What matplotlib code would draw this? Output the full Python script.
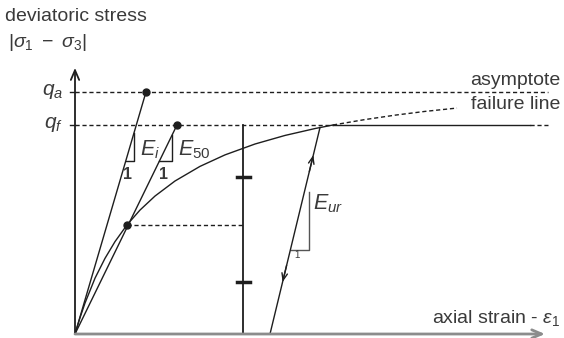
import numpy as np
import matplotlib
matplotlib.use("Agg")
from matplotlib import pyplot as plt

plt.rcParams['font.family'] = ['Liberation Sans', 'DejaVu Sans']
plt.rcParams['mathtext.fontset'] = 'custom'
plt.rcParams['mathtext.rm'] = 'Liberation Sans'
plt.rcParams['mathtext.it'] = 'Liberation Sans:italic'
plt.rcParams['mathtext.sf'] = 'Liberation Sans'

# stress levels (normalised so that q_f = 1)
q_f = 1.0
q_a = 1.158

# hyperbolic stress-strain curve, solid part up to failure
curve_eps = [0, 0.05, 0.10, 0.20, 0.30, 0.40, 0.52, 0.65, 0.80, 1.00,
             1.25, 1.50, 1.80, 2.10, 2.40, 2.58]
curve_q = [0, 0.078, 0.148, 0.267, 0.362, 0.442, 0.522, 0.593, 0.660, 0.732,
           0.802, 0.857, 0.909, 0.950, 0.983, 1.0]
# dashed continuation towards the asymptote
ext_eps = [2.58, 2.90, 3.20, 3.50, 3.82]
ext_q = [1.0, 1.026, 1.047, 1.065, 1.081]

eps_i = 0.71       # E_i secant reaches q_a here
eps_f50 = 1.02     # E_50 secant reaches q_f here
eps_50, q_50 = 0.52, 0.522
eps_mark = 1.68    # vertical scale line
ur_eps = [1.95, 2.45]
ur_q = [0.0, 0.988]
fail_end = 4.55
line_end = 4.73

ink = '#1e1e1e'
txt = '#3a3a3a'

fig = plt.figure(figsize=(5.64, 3.38), dpi=100)
ax = fig.add_axes([0, 0, 1, 1])
ax.set_xlim(-0.75, 4.89)
ax.set_ylim(-0.0191, 1.598)
ax.axis('off')

dash = dict(color=ink, lw=1.0, dashes=(3, 2))
solid = dict(color=ink, lw=1.0)

# axes with open arrowheads
ax.annotate('', xy=(0, 1.273), xytext=(0, 0),
            arrowprops=dict(arrowstyle='->,head_length=0.7,head_width=0.3',
                            color=ink, lw=1.3, shrinkA=0, shrinkB=0))
ax.annotate('', xy=(4.70, 0), xytext=(0, 0),
            arrowprops=dict(arrowstyle='->,head_length=0.7,head_width=0.3',
                            color='#8c8c8c', lw=2.0, shrinkA=0, shrinkB=0))

# asymptote and failure levels
ax.plot([0, line_end], [q_a, q_a], **dash)
ax.plot([0, curve_eps[-1]], [q_f, q_f], **dash)
ax.plot([curve_eps[-1], fail_end], [q_f, q_f], **solid)
ax.plot([fail_end, line_end], [q_f, q_f], **dash)
for q in (q_a, q_f):
    ax.plot([-0.05, 0], [q, q], **solid)

# stress-strain curve
ax.plot(curve_eps, curve_q, **solid)
ax.plot(ext_eps, ext_q, **dash)

# secant lines E_i and E_50
ax.plot([0, eps_i], [0, q_a], **solid)
ax.plot([0, eps_f50], [0, q_f], **solid)
ax.plot([eps_i, eps_f50], [q_a, q_f], 'o', color=ink, ms=5)
ax.plot([eps_50], [q_50], 'o', color=ink, ms=5)
ax.plot([eps_50, eps_mark], [q_50, q_50], **dash)

# slope triangles
def slope_triangle(slope, e0, q_base, e_right):
    e_left = e0 + q_base / slope
    q_top = (e_right - e0) * slope
    ax.plot([e_left, e_right, e_right], [q_base, q_base, q_top], **solid)

slope_triangle(q_a / eps_i, 0, 0.828, 0.59)
slope_triangle(q_f / eps_f50, 0, 0.828, 0.97)
ax.plot([2.16, 2.34, 2.34], [0.402, 0.402, 0.679], color='#555555', lw=1.0)

# vertical scale with quarter marks
ax.plot([eps_mark, eps_mark], [0, q_f], color=ink, lw=1.3)
for q in (0.25, 0.75):
    ax.plot([eps_mark - 0.065, eps_mark + 0.065], [q, q], color=ink, lw=2.5)

# unloading / reloading branch
ax.plot(ur_eps, ur_q, **solid)
ur_slope = ur_q[1] / (ur_eps[1] - ur_eps[0])
for q_tip, d in ((0.856, 1), (0.249, -1)):
    e_tip = ur_eps[0] + q_tip / ur_slope
    ax.annotate('', xy=(e_tip, q_tip),
                xytext=(e_tip - d * 0.04, q_tip - d * 0.04 * ur_slope),
                arrowprops=dict(arrowstyle='->,head_length=0.5,head_width=0.2',
                                color=ink, lw=1.0, shrinkA=0, shrinkB=0))

# labels
fs = 14
ax.text(-0.70, 1.517, 'deviatoric stress', fontsize=fs, color=txt,
        ha='left', va='center')
ax.text(-0.67, 1.397, r'$|\sigma_1\ -\ \sigma_3|$', fontsize=fs, color=txt,
        ha='left', va='center')
ax.text(-0.12, q_a, r'$q_a$', fontsize=15, color=txt, ha='right', va='center')
ax.text(-0.12, q_f, r'$q_f$', fontsize=15, color=txt, ha='right', va='center')
ax.text(4.85, 1.215, 'asymptote', fontsize=fs, color=txt,
        ha='right', va='center')
ax.text(4.85, 1.096, 'failure line', fontsize=fs, color=txt,
        ha='right', va='center')
ax.text(4.85, 0.077, r'axial strain - $\varepsilon_1$', fontsize=fs,
        color=txt, ha='right', va='center')
ax.text(0.65, 0.880, r'$E_i$', fontsize=15.5, color=txt, ha='left', va='center')
ax.text(1.03, 0.880, r'$E_{50}$', fontsize=15.5, color=txt, ha='left', va='center')
ax.text(2.38, 0.622, r'$E_{ur}$', fontsize=15.5, color=txt, ha='left', va='center')
ax.text(0.53, 0.761, '1', fontsize=11.5, color=txt, ha='center', va='center',
        fontweight='bold')
ax.text(0.89, 0.761, '1', fontsize=11.5, color=txt, ha='center', va='center',
        fontweight='bold')
ax.text(2.22, 0.380, '1', fontsize=7, color=txt, ha='center', va='center')

fig.savefig('out.png', dpi=100)
